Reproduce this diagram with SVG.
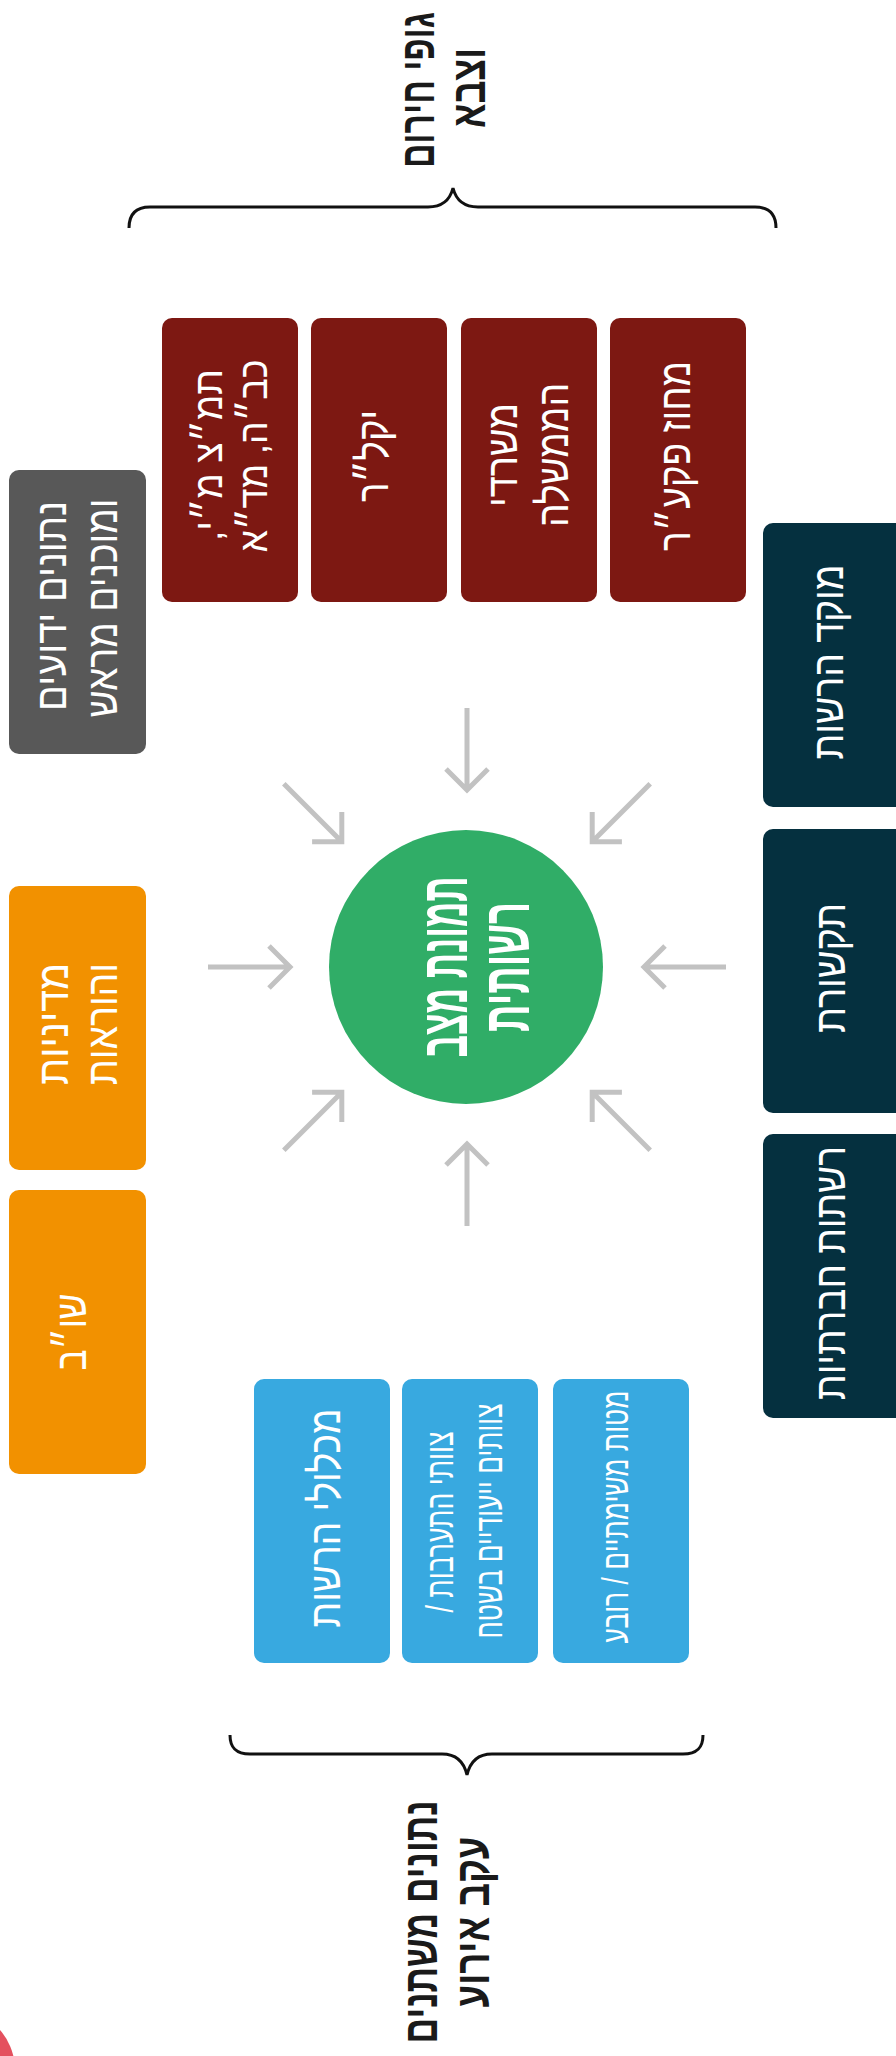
<svg xmlns="http://www.w3.org/2000/svg" width="896" height="2056" viewBox="0 0 896 2056">
<style>
.t{font-family:"Liberation Sans","DejaVu Sans",sans-serif;fill:#fff;text-anchor:middle;direction:rtl}
.lbl{font-family:"Liberation Sans","DejaVu Sans",sans-serif;fill:#1a1a1a;font-weight:bold;text-anchor:middle;direction:rtl}
.ttl{font-family:"Liberation Sans","DejaVu Sans",sans-serif;fill:#fff;font-weight:bold;text-anchor:middle;direction:rtl}
.red{fill:#7D1812}
.navy{fill:#05303F}
.org{fill:#F29100}
.gray{fill:#585858}
.blue{fill:#38A9E0}
.br{fill:none;stroke:#111;stroke-width:3}
.arr{fill:none;stroke:#C2C2C2;stroke-width:5;stroke-linejoin:miter}
</style>
<defs>
<path id="arrow" d="M-82,0 H0 M-21,-21 L0,0 L-21,21"/>
</defs>
<rect width="896" height="2056" fill="#fff"/>

<g id="label-top">
<path class="br" d="M129,228 C129,214 136,207 150,207 L428,207 C443,207 450,200 453,188 C456,200 463,207 478,207 L755,207 C769,207 776,214 776,228"/>
<text class="lbl" font-size="48" transform="translate(434,90) rotate(-90)" textLength="156" lengthAdjust="spacingAndGlyphs">גופי חירום</text>
<text class="lbl" font-size="48" transform="translate(485,88) rotate(-90)" textLength="80" lengthAdjust="spacingAndGlyphs">וצבא</text>
</g>

<g id="node-tamatz">
<rect class="red" x="162" y="318" width="136" height="284" rx="10"/>
<text class="t" font-size="40" transform="translate(222,455) rotate(-90)" textLength="172" lengthAdjust="spacingAndGlyphs">תמ״צ מ״י,</text>
<text class="t" font-size="40" transform="translate(267,456) rotate(-90)" textLength="193" lengthAdjust="spacingAndGlyphs">כב״ה, מד״א</text>
</g>
<g id="node-yakalar">
<rect class="red" x="311" y="318" width="136" height="284" rx="10"/>
<text class="t" font-size="44" transform="translate(388,456) rotate(-90)" textLength="92" lengthAdjust="spacingAndGlyphs">יקל״ר</text>
</g>
<g id="node-misradim">
<rect class="red" x="461" y="318" width="136" height="284" rx="10"/>
<text class="t" font-size="44" transform="translate(517,455) rotate(-90)" textLength="104" lengthAdjust="spacingAndGlyphs">משרדי</text>
<text class="t" font-size="44" transform="translate(568,455) rotate(-90)" textLength="144" lengthAdjust="spacingAndGlyphs">הממשלה</text>
</g>
<g id="node-mahoz">
<rect class="red" x="610" y="318" width="136" height="284" rx="10"/>
<text class="t" font-size="44" transform="translate(690,456) rotate(-90)" textLength="190" lengthAdjust="spacingAndGlyphs">מחוז פקע״ר</text>
</g>

<g id="node-known">
<rect class="gray" x="9" y="470" width="137" height="284" rx="10"/>
<text class="t" font-size="44" transform="translate(66,606) rotate(-90)" textLength="210" lengthAdjust="spacingAndGlyphs">נתונים ידועים</text>
<text class="t" font-size="44" transform="translate(117,608) rotate(-90)" textLength="219" lengthAdjust="spacingAndGlyphs">ומוכנים מראש</text>
</g>
<g id="node-policy">
<rect class="org" x="9" y="886" width="137" height="284" rx="10"/>
<text class="t" font-size="44" transform="translate(68,1024) rotate(-90)" textLength="122" lengthAdjust="spacingAndGlyphs">מדיניות</text>
<text class="t" font-size="44" transform="translate(117,1024) rotate(-90)" textLength="122" lengthAdjust="spacingAndGlyphs">והוראות</text>
</g>
<g id="node-shob">
<rect class="org" x="9" y="1190" width="137" height="284" rx="10"/>
<text class="t" font-size="44" transform="translate(86,1332) rotate(-90)" textLength="77" lengthAdjust="spacingAndGlyphs">שו״ב</text>
</g>

<g id="node-moked">
<rect class="navy" x="763" y="523" width="150" height="284" rx="10"/>
<text class="t" font-size="44" transform="translate(843,662) rotate(-90)" textLength="195" lengthAdjust="spacingAndGlyphs">מוקד הרשות</text>
</g>
<g id="node-tikshoret">
<rect class="navy" x="763" y="829" width="150" height="284" rx="10"/>
<text class="t" font-size="44" transform="translate(845,968) rotate(-90)" textLength="130" lengthAdjust="spacingAndGlyphs">תקשורת</text>
</g>
<g id="node-reshatot">
<rect class="navy" x="763" y="1134" width="150" height="284" rx="10"/>
<text class="t" font-size="44" transform="translate(845,1273) rotate(-90)" textLength="254" lengthAdjust="spacingAndGlyphs">רשתות חברתיות</text>
</g>

<g id="node-miklolim">
<rect class="blue" x="254" y="1379" width="136" height="284" rx="10"/>
<text class="t" font-size="44" transform="translate(340,1518) rotate(-90)" textLength="219" lengthAdjust="spacingAndGlyphs">מכלולי הרשות</text>
</g>
<g id="node-tzevatim">
<rect class="blue" x="402" y="1379" width="136" height="284" rx="10"/>
<text class="t" font-size="38" transform="translate(453,1522) rotate(-90)" textLength="181" lengthAdjust="spacingAndGlyphs">צוותי התערבות /</text>
<text class="t" font-size="38" transform="translate(502,1521) rotate(-90)" textLength="235" lengthAdjust="spacingAndGlyphs">צוותים ייעודיים בשטח</text>
</g>
<g id="node-matot">
<rect class="blue" x="553" y="1379" width="136" height="284" rx="10"/>
<text class="t" font-size="36" transform="translate(628,1517) rotate(-90)" textLength="253" lengthAdjust="spacingAndGlyphs">מטות משימתיים / רובע</text>
</g>

<g id="node-center">
<circle cx="466" cy="967" r="137" fill="#30AD67"/>
<text class="ttl" font-size="66" transform="translate(467,967) rotate(-90)" textLength="181" lengthAdjust="spacingAndGlyphs">תמונת מצב</text>
<text class="ttl" font-size="66" transform="translate(529,967) rotate(-90)" textLength="130" lengthAdjust="spacingAndGlyphs">רשותית</text>
</g>

<g id="label-bottom">
<path class="br" d="M230,1735 C230,1748 236,1754 250,1754 L442,1754 C457,1754 464,1762 467,1775 C470,1762 477,1754 492,1754 L683,1754 C697,1754 703,1748 703,1735"/>
<text class="lbl" font-size="48" transform="translate(437,1922) rotate(-90)" textLength="243" lengthAdjust="spacingAndGlyphs">נתונים משתנים</text>
<text class="lbl" font-size="48" transform="translate(489,1922) rotate(-90)" textLength="171" lengthAdjust="spacingAndGlyphs">עקב אירוע</text>
</g>

<g id="connectors" class="arr">
<use href="#arrow" transform="translate(467,790) rotate(90)"/>
<use href="#arrow" transform="translate(341.8,841.8) rotate(45)"/>
<use href="#arrow" transform="translate(592.2,841.8) rotate(135)"/>
<use href="#arrow" transform="translate(290,967) rotate(0)"/>
<use href="#arrow" transform="translate(644,967) rotate(180)"/>
<use href="#arrow" transform="translate(341.8,1092.2) rotate(-45)"/>
<use href="#arrow" transform="translate(592.2,1092.2) rotate(-135)"/>
<use href="#arrow" transform="translate(467,1144) rotate(-90)"/>
</g>

<circle cx="-46" cy="2070" r="61" fill="#E4505E"/>
</svg>
